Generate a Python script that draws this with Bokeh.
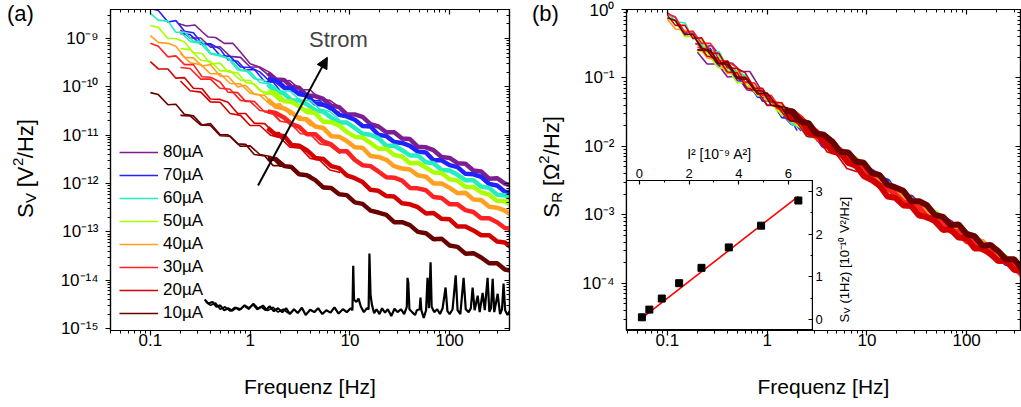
import numpy as np
from bokeh.plotting import figure
from bokeh.layouts import row, column
from bokeh.models import (FixedTicker, LogAxis, CustomJSTickFormatter, Legend, LegendItem,
                          Label, Arrow, NormalHead, Div)
from bokeh.embed import file_html
from bokeh.resources import INLINE

FONT = "Liberation Sans"

# ---------------- data ----------------
currents_uA = [80, 70, 60, 50, 40, 30, 20, 10]
current_labels = ["80µA", "70µA", "60µA", "50µA", "40µA", "30µA", "20µA", "10µA"]
colors = ["#7f1f8f", "#2222ff", "#22eec0", "#aaff00", "#ffa020", "#ff2222", "#d40000", "#6b0000"]

# frequency grids [Hz]
f_lf1 = [0.1, 0.12, 0.15, 0.18, 0.22, 0.27, 0.33, 0.4, 0.5, 0.6, 0.75, 0.9, 1.1, 1.4, 1.7, 2.0]
f_lf1_80 = [0.19, 0.23, 0.28, 0.33, 0.38, 0.45, 0.55, 0.67, 0.8, 1.0, 1.2, 1.5, 1.8, 2.2]
f_lf2 = [0.2, 0.25, 0.32, 0.4, 0.5, 0.63, 0.8, 1.0, 1.25, 1.6, 2.0, 2.5, 3.2, 4.0, 5.0, 6.3, 8.0]
f_hf = [1.5, 1.8, 2.2, 2.6, 3.1, 3.7, 4.5, 5.4, 6.5, 7.8, 9.3, 11.2, 13.4, 16.1, 19.3, 23.2,
        27.8, 33.4, 40, 48, 58, 69, 83, 100, 120, 144, 173, 207, 249, 299, 358, 430]

# log10 S_V [V^2/Hz], low-frequency spectra (first set)
lf1_80 = [-8.69, -8.74, -8.72, -8.86, -8.97, -8.98, -9.10, -9.10, -9.28, -9.52, -9.58, -9.74, -9.83, -9.97]
lf1_70 = [-8.38, -8.42, -8.66, -8.63, -8.85, -8.88, -9.11, -9.11, -9.22, -9.44, -9.47, -9.65, -9.64, -9.89, -9.90, -10.08]
lf1_60 = [-8.48, -8.62, -8.64, -8.87, -8.87, -9.06, -9.06, -9.30, -9.34, -9.41, -9.65, -9.65, -9.83, -9.87, -10.09, -10.11]
lf1_50 = [-8.73, -8.77, -9.00, -9.00, -9.07, -9.29, -9.31, -9.53, -9.51, -9.69, -9.71, -9.91, -9.94, -10.15, -10.14, -10.30]
lf1_40 = [-8.94, -9.08, -9.10, -9.16, -9.39, -9.40, -9.57, -9.54, -9.78, -9.78, -10.00, -9.97, -10.15, -10.18, -10.37, -10.38]
lf1_30 = [-9.10, -9.16, -9.38, -9.36, -9.54, -9.54, -9.79, -9.80, -9.90, -10.11, -10.12, -10.30, -10.30, -10.52, -10.54, -10.71]
lf1_20 = [-9.48, -9.63, -9.63, -9.82, -9.81, -10.03, -10.04, -10.25, -10.26, -10.32, -10.55, -10.55, -10.75, -10.76, -10.94, -10.95]
lf1_10 = [-10.12, -10.16, -10.37, -10.36, -10.57, -10.60, -10.79, -10.76, -10.99, -10.99, -11.18, -11.19, -11.40, -11.43, -11.63, -11.63]

# log10 S_V, low-frequency spectra (second set)
lf2_80 = [-8.82, -8.99, -8.99, -9.18, -9.17, -9.37, -9.39, -9.59, -9.59, -9.71, -9.89, -9.87, -10.06, -10.06, -10.26, -10.28, -10.43]
lf2_70 = [-8.90, -8.92, -9.12, -9.13, -9.35, -9.37, -9.59, -9.60, -9.69, -9.90, -9.89, -10.08, -10.10, -10.28, -10.29, -10.47, -10.53]
lf2_60 = [-8.87, -9.06, -9.10, -9.32, -9.36, -9.43, -9.66, -9.69, -9.91, -9.94, -10.09, -10.08, -10.29, -10.28, -10.46, -10.51, -10.70]
lf2_50 = [-9.21, -9.23, -9.45, -9.47, -9.67, -9.67, -9.86, -9.87, -10.08, -10.13, -10.30, -10.27, -10.47, -10.46, -10.68, -10.70, -10.82]
lf2_40 = [-9.31, -9.50, -9.54, -9.73, -9.73, -9.93, -9.94, -10.13, -10.17, -10.37, -10.35, -10.57, -10.61, -10.80, -10.81, -10.99, -11.05]
lf2_30 = [-9.60, -9.62, -9.84, -9.84, -10.03, -10.05, -10.28, -10.30, -10.49, -10.51, -10.71, -10.74, -10.97, -10.98, -11.18, -11.22, -11.38]
lf2_20 = [-9.88, -10.08, -10.11, -10.31, -10.32, -10.55, -10.59, -10.80, -10.80, -11.00, -11.05, -11.25, -11.27, -11.48, -11.52, -11.72, -11.77]
lf2_10 = [-10.59, -10.60, -10.79, -10.80, -11.01, -11.02, -11.23, -11.22, -11.40, -11.44, -11.64, -11.63, -11.83, -11.83, -12.04, -12.07, -12.22]

# log10 S_V, high-frequency spectra
hf_80 = [-9.72, -9.85, -9.86, -10.00, -10.02, -10.18, -10.19, -10.25, -10.39, -10.42, -10.57, -10.57, -10.62, -10.77, -10.82, -10.94,
         -10.94, -11.07, -11.08, -11.24, -11.25, -11.31, -11.45, -11.47, -11.58, -11.59, -11.73, -11.75, -11.90, -11.89, -12.00, -12.05]
hf_70 = [-9.84, -9.87, -10.02, -10.03, -10.15, -10.18, -10.35, -10.37, -10.44, -10.58, -10.61, -10.68, -10.81, -10.82, -10.99, -11.02,
         -11.14, -11.16, -11.22, -11.34, -11.36, -11.52, -11.52, -11.62, -11.66, -11.80, -11.81, -11.86, -12.01, -12.04, -12.17, -12.18]
hf_60 = [-9.95, -10.09, -10.14, -10.28, -10.28, -10.36, -10.49, -10.51, -10.64, -10.74, -10.74, -10.85, -10.97, -10.99, -11.06, -11.22,
         -11.22, -11.31, -11.42, -11.42, -11.56, -11.58, -11.72, -11.73, -11.82, -11.93, -11.93, -12.06, -12.09, -12.23, -12.24, -12.35]
hf_50 = [-10.10, -10.13, -10.30, -10.31, -10.40, -10.52, -10.54, -10.72, -10.73, -10.80, -10.93, -11.03, -11.05, -11.16, -11.28, -11.28,
         -11.41, -11.44, -11.58, -11.57, -11.67, -11.77, -11.78, -11.91, -11.94, -12.07, -12.07, -12.18, -12.23, -12.36, -12.36, -12.48]
hf_40 = [-10.26, -10.41, -10.45, -10.53, -10.66, -10.67, -10.82, -10.85, -11.02, -11.03, -11.12, -11.25, -11.26, -11.43, -11.45, -11.51,
         -11.64, -11.69, -11.71, -11.83, -11.86, -12.00, -12.00, -12.09, -12.20, -12.19, -12.33, -12.34, -12.48, -12.50, -12.56, -12.68]
hf_30 = [-10.51, -10.54, -10.64, -10.77, -10.83, -10.98, -10.98, -11.13, -11.19, -11.33, -11.33, -11.51, -11.62, -11.64, -11.75, -11.87,
         -11.88, -11.94, -12.09, -12.10, -12.14, -12.28, -12.30, -12.43, -12.43, -12.55, -12.59, -12.72, -12.72, -12.80, -12.92, -12.94]
hf_20 = [-10.85, -10.99, -11.02, -11.20, -11.22, -11.31, -11.47, -11.49, -11.64, -11.68, -11.83, -11.89, -11.97, -12.13, -12.15, -12.26,
         -12.27, -12.41, -12.43, -12.49, -12.62, -12.61, -12.73, -12.74, -12.89, -12.89, -12.97, -13.07, -13.07, -13.20, -13.22, -13.35]
hf_10 = [-11.48, -11.49, -11.64, -11.66, -11.81, -11.83, -11.93, -12.08, -12.09, -12.22, -12.24, -12.39, -12.42, -12.56, -12.60, -12.65,
         -12.80, -12.80, -12.86, -13.00, -13.03, -13.15, -13.14, -13.28, -13.31, -13.45, -13.44, -13.53, -13.65, -13.65, -13.78, -13.81]

# background noise (no current), log10 S_V
noise_f = [0.35, 0.38, 0.42, 0.46, 0.5, 0.55, 0.6, 0.66, 0.72, 0.8, 0.88, 0.97, 1.07, 1.18, 1.3, 1.43, 1.57, 1.73, 1.9, 2.1,
           2.3, 2.5, 2.75, 3.0, 3.3, 3.6, 4.0, 4.4, 4.8, 5.3, 5.8, 6.4, 7.0, 7.7, 8.5, 9.3, 10.2, 10.6, 10.8, 11.0,
           11.6, 12.2, 12.9, 13.8, 14.8, 15.4, 15.7, 16.1, 16.6, 17.5, 18.5, 19.8, 21, 22.5, 24, 26, 28, 30, 32.5, 35,
           37.2, 37.8, 38.5, 39.5, 42, 45, 47, 50, 51, 52, 55, 58, 60, 62, 64.4, 66, 70, 75, 80, 85,
           91, 95, 100, 107, 115, 120, 128, 138, 145, 155, 163, 170, 178, 191, 200, 214, 225, 240, 250, 260,
           270, 280, 303, 320, 335, 347, 360, 380, 400, 420]
noise_v = [-14.40, -14.48, -14.45, -14.55, -14.52, -14.62, -14.58, -14.63, -14.57, -14.60, -14.52, -14.58, -14.50, -14.60, -14.55,
           -14.62, -14.54, -14.64, -14.58, -14.66, -14.58, -14.70, -14.60, -14.68, -14.57, -14.72, -14.61, -14.66, -14.58, -14.70,
           -14.62, -14.67, -14.56, -14.69, -14.60, -14.66, -14.58, -14.62, -13.70, -14.40, -14.45, -14.38, -14.55, -14.66, -14.58,
           -14.60, -13.45, -14.30, -14.50, -14.68, -14.60, -14.70, -14.58, -14.67, -14.60, -14.74, -14.59, -14.66, -14.60, -14.70,
           -14.55, -13.95, -14.05, -14.60, -14.66, -14.72, -14.62, -14.60, -14.36, -14.62, -14.78, -14.62, -13.95, -14.58, -13.63,
           -14.55, -14.66, -14.60, -14.70, -14.58, -14.15, -14.64, -14.70, -14.60, -13.90, -14.62, -14.70, -13.95, -14.60, -14.66,
           -14.58, -14.15, -14.62, -14.32, -14.66, -14.26, -14.62, -13.95, -14.65, -14.58, -13.97, -14.66, -14.28, -14.70, -14.60,
           -14.07, -14.62, -14.72, -14.64, -14.60]
noise2_f = [0.36, 0.4, 0.45, 0.5, 0.56, 0.63, 0.7, 0.78, 0.87, 0.97, 1.08, 1.2, 1.35, 1.5, 1.7, 1.9, 2.15, 2.4]
noise2_v = [-14.45, -14.52, -14.47, -14.60, -14.55, -14.64, -14.56, -14.62, -14.53, -14.60, -14.48, -14.58, -14.52, -14.63,
            -14.56, -14.66, -14.60, -14.68]

# inset: S_V at 1 Hz [1e-10 V^2/Hz] for 80..10 µA, and linear fit
sv_1hz = [2.79, 2.20, 1.69, 1.21, 0.85, 0.49, 0.23, 0.05]
fit_i2 = [0.1, 6.4]
fit_sv = [0.03, 2.89]
inset_y_ticks = [0, 1, 2, 3]

# "Strom" arrow (frequency, S_V)
arrow_f = [1.2, 5.94]
arrow_sv = [10 ** -12.04, 10 ** -9.39]
strom_pos = (7.67, 10 ** -9.02)

lf1_all = [lf1_80, lf1_70, lf1_60, lf1_50, lf1_40, lf1_30, lf1_20, lf1_10]
lf1_f_all = [f_lf1_80] + [f_lf1] * 7
lf2_all = [lf2_80, lf2_70, lf2_60, lf2_50, lf2_40, lf2_30, lf2_20, lf2_10]
hf_all = [hf_80, hf_70, hf_60, hf_50, hf_40, hf_30, hf_20, hf_10]

# ---------------- helpers ----------------
SUP_CODE = """
const m = {"-": "\\u207b", "0": "\\u2070", "1": "\\u00b9", "2": "\\u00b2", "3": "\\u00b3",
           "4": "\\u2074", "5": "\\u2075", "6": "\\u2076", "7": "\\u2077", "8": "\\u2078", "9": "\\u2079"};
const e = Math.round(Math.log(tick) / Math.LN10);
return "10" + String(e).split("").map((c) => m[c]).join("");
"""
DEC_CODE = "return Number(tick.toPrecision(6)).toString();"

x_ticker = FixedTicker(ticks=[0.1, 1, 10, 100],
                       minor_ticks=[k * 10.0 ** n for n in range(-2, 3) for k in range(2, 10)])
ya_ticker = FixedTicker(ticks=[10.0 ** n for n in range(-15, -8)],
                        minor_ticks=[k * 10.0 ** n for n in range(-16, -8) for k in range(2, 10)])
yb_ticker = FixedTicker(ticks=[10.0 ** n for n in range(-4, 1)],
                        minor_ticks=[k * 10.0 ** n for n in range(-5, 0) for k in range(2, 10)])

W, H = 1021, 407
FRAME_TOP, FRAME_BOTTOM = 9, 330


def style_axis(ax, size="17px"):
    ax.axis_line_color = "black"
    ax.axis_line_width = 1.2
    ax.major_tick_line_color = "black"
    ax.minor_tick_line_color = "black"
    ax.major_tick_line_width = 1.2
    ax.minor_tick_line_width = 1
    ax.major_tick_out = 5
    ax.major_tick_in = 0
    ax.minor_tick_out = 3
    ax.minor_tick_in = 0
    ax.major_label_text_font = FONT
    ax.major_label_text_font_size = size
    ax.major_label_text_color = "black"
    ax.axis_label_text_font = FONT
    ax.axis_label_text_font_style = "normal"
    ax.axis_label_text_color = "black"


def inner_axis(p, ticker, side):
    ax = LogAxis(ticker=ticker, major_label_text_font_size="1px", major_label_text_color=None,
                 major_label_standoff=0,
                 major_tick_in=5, major_tick_out=0, minor_tick_in=3, minor_tick_out=0,
                 axis_line_color="black", axis_line_width=1.2, major_tick_line_width=1.2,
                 major_tick_line_color="black", minor_tick_line_color="black")
    p.add_layout(ax, side)


def make_main(width, xr, yr, yticker, bl, br):
    p = figure(width=width, height=H, x_axis_type="log", y_axis_type="log",
               x_range=xr, y_range=yr, output_backend="svg", toolbar_location=None,
               min_border_left=bl, min_border_right=br, min_border_top=FRAME_TOP,
               min_border_bottom=H - FRAME_BOTTOM)
    p.xgrid.visible = False
    p.ygrid.visible = False
    p.outline_line_color = "black"
    p.outline_line_width = 1.2
    p.xaxis.ticker = x_ticker
    p.yaxis.ticker = yticker
    p.xaxis.formatter = CustomJSTickFormatter(code=DEC_CODE)
    p.yaxis.formatter = CustomJSTickFormatter(code=SUP_CODE)
    for ax in p.xaxis + p.yaxis:
        style_axis(ax)
    p.xaxis.major_label_standoff = -2
    p.yaxis.major_label_standoff = 7
    p.xaxis.axis_label = "Frequenz [Hz]"
    p.xaxis.axis_label_text_font_size = "21px"
    p.xaxis.axis_label_standoff = 26
    inner_axis(p, x_ticker, "above")
    inner_axis(p, yticker, "right")
    return p


def flabel(p, frame_left, px, py, text, size, angle=0.0, align="left", baseline="alphabetic"):
    # label at page pixel (px, py); Label screen units are relative to the frame's bottom-left
    p.add_layout(Label(x=px - frame_left, y=FRAME_BOTTOM - py, x_units="screen", y_units="screen",
                       text=text, angle=angle, text_font=FONT, text_font_size=size,
                       text_align=align, text_baseline=baseline, text_color="black"))


# ---------------- panel (a) ----------------
A_LEFT = 110
pa = make_main(517, (10 ** -1.40, 10 ** 2.60), (10 ** -15.04, 10 ** -8.40), ya_ticker, A_LEFT, 8)

legend_items = []
for i, c in enumerate(colors):
    r = pa.line(lf1_f_all[i], 10 ** np.array(lf1_all[i]), line_color=c, line_width=1.6)
    pa.line(f_lf2, 10 ** np.array(lf2_all[i]), line_color=c, line_width=1.6)
    pa.line(f_hf, 10 ** np.array(hf_all[i]), line_color=c, line_width=4.5)
    legend_items.append(LegendItem(label=current_labels[i], renderers=[r]))

pa.line(noise_f, 10 ** np.array(noise_v), line_color="black", line_width=2.2)
pa.line(noise2_f, 10 ** np.array(noise2_v), line_color="black", line_width=1.6)

legend = Legend(items=legend_items, location=(9, 7), padding=0, margin=0, spacing=3,
                glyph_width=39, glyph_height=20, label_height=20, label_standoff=5,
                label_text_font=FONT, label_text_font_size="17px", label_text_color="black",
                border_line_color=None, background_fill_alpha=0)
pa.add_layout(legend)

pa.add_layout(Arrow(x_start=arrow_f[0], y_start=arrow_sv[0], x_end=arrow_f[1], y_end=arrow_sv[1],
                    line_width=2, line_color="black",
                    end=NormalHead(size=11, fill_color="black", line_color="black")))
pa.add_layout(Label(x=strom_pos[0], y=strom_pos[1], text="Strom", text_font=FONT, text_font_size="22px",
                    text_align="center", text_baseline="middle"))

# ---------------- panel (b) ----------------
B_LEFT = 626
pb = make_main(504, (10 ** -1.41, 10 ** 2.54), (10 ** -4.69, 1.0), yb_ticker, B_LEFT - 517, 1)
for i, c in enumerate(colors):
    i2 = (currents_uA[i] * 1e-6) ** 2
    pb.line(lf1_f_all[i], 10 ** np.array(lf1_all[i]) / i2, line_color=c, line_width=1.6)
    pb.line(f_lf2, 10 ** np.array(lf2_all[i]) / i2, line_color=c, line_width=1.6)
    pb.line(f_hf, 10 ** np.array(hf_all[i]) / i2, line_color=c, line_width=6)

# ---------------- inset ----------------
INS_TOP, INS_RIGHT = 180, 812
ins_yr = (-0.26, 3.26)
ins = figure(width=(INS_RIGHT - 517) + 1, height=FRAME_BOTTOM - INS_TOP + 40,
             x_range=(-0.52, 6.97), y_range=ins_yr,
             x_axis_location="above", y_axis_location="right",
             min_border_left=B_LEFT - 517, min_border_bottom=0, min_border_top=40, min_border_right=1,
             background_fill_color="white", border_fill_color=None,
             output_backend="svg", toolbar_location=None,
             margin=(-(H - (INS_TOP - 40)), 0, 0, 0))
ins.xgrid.visible = False
ins.ygrid.visible = False
ins.outline_line_color = "black"
ins.outline_line_width = 1.2
ins.xaxis.ticker = FixedTicker(ticks=[0, 2, 4, 6], minor_ticks=[1, 3, 5])
ins.yaxis.ticker = FixedTicker(ticks=inset_y_ticks, minor_ticks=[0.5, 1.5, 2.5])
for ax in ins.xaxis + ins.yaxis:
    style_axis(ax, "13px")
    ax.major_tick_in = 4
    ax.major_tick_out = 0
    ax.minor_tick_in = 2
    ax.minor_tick_out = 0
    ax.major_label_standoff = 3
ins.yaxis.major_label_text_font_size = "1px"
ins.yaxis.major_label_text_color = None
ins.yaxis.major_label_standoff = 0
ins.xaxis.axis_label = "I² [10⁻⁹ A²]"
ins.xaxis.axis_label_text_font_size = "14px"
ins.xaxis.axis_label_standoff = 4

i2_vals = [(c * 1e-6) ** 2 / 1e-9 for c in currents_uA]
ins.line(fit_i2, fit_sv, line_color="red", line_width=1.6)
ins.scatter(i2_vals, sv_1hz, marker="square", size=7, fill_color="black", line_color="black")

# inset right-axis tick labels and title (drawn from panel (b), right of the inset)
for t in inset_y_ticks:
    ty = FRAME_BOTTOM - (t - ins_yr[0]) / (ins_yr[1] - ins_yr[0]) * (FRAME_BOTTOM - INS_TOP)
    flabel(pb, B_LEFT, INS_RIGHT + 3, ty, str(t), "13px", baseline="middle")
flabel(pb, B_LEFT, 844, 322, "S", "13px", angle=np.pi / 2)
flabel(pb, B_LEFT, 846, 313, "V", "9px", angle=np.pi / 2)
flabel(pb, B_LEFT, 844, 303, "(1Hz) [10⁻¹⁰ V²/Hz]", "13px", angle=np.pi / 2)

# ---------------- panel letters and y titles (HTML overlay) ----------------
VT = ("position:absolute;bottom:{b}px;left:{l}px;font-size:22px;line-height:24px;"
      "writing-mode:vertical-rl;transform:rotate(180deg);white-space:nowrap;")
SUB = "position:relative;left:-5px;font-size:15px;"
SUPS = "position:relative;left:8px;font-size:15px;"
overlay_html = (
    f'<div style="position:relative;width:{W}px;height:{H}px;font-family:\'{FONT}\',Arial,sans-serif;color:#000;">'
    '<div style="position:absolute;left:7px;top:1px;font-size:22px;line-height:26px;">(a)</div>'
    '<div style="position:absolute;left:532px;top:1px;font-size:22px;line-height:26px;">(b)</div>'
    f'<div style="{VT.format(b=H - 218, l=14)}">S<span style="{SUB}">V</span> [V<span style="{SUPS}">2</span>/Hz]</div>'
    f'<div style="{VT.format(b=H - 218, l=540)}">S<span style="{SUB}">R</span> [Ω<span style="{SUPS}">2</span>/Hz]</div>'
    '</div>'
)
overlay = Div(text=overlay_html, width=W, height=H, margin=(-H, 0, 0, 0))

layout = column(row(pa, column(pb, ins)), overlay)

open("out.html", "w").write(file_html(layout, INLINE))
